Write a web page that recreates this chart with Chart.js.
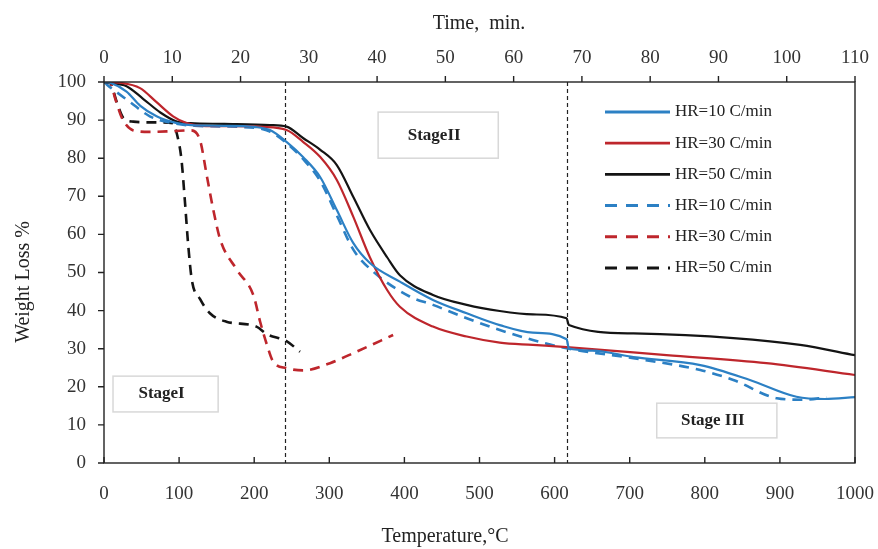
<!DOCTYPE html>
<html lang="en">
<head>
  <meta charset="UTF-8">
  <title>TGA weight loss</title>
  <script src="https://cdn.jsdelivr.net/npm/chart.js"></script>
</head>
<style>
  body { margin: 0; background: #fff; }
  .chart-container { width: 878px; height: 549px; }
</style>
<body>
  <div class="chart-container">
    <canvas id="tgaCanvas" width="878" height="549"></canvas>
  </div>

  <script>
    // temperature (C) / weight (%) readings, solid = TGA runs, dashed = second set
    const hr10Temp = [0, 8, 30, 48, 70, 97, 120, 160, 200, 221, 243, 265, 288, 310, 332, 354, 394, 438, 483, 527, 571, 616, 619, 650, 705, 794, 860, 922, 960, 1000];
    const hr10Loss = [100, 99.8, 97.5, 93.8, 91, 89.2, 88.6, 88.5, 88.2, 87.4, 84.3, 80.3, 75, 66.4, 57.7, 52.5, 47.6, 42.8, 39.3, 36.2, 34.2, 32.5, 30.1, 29.5, 27.8, 25.7, 21.8, 17.4, 16.8, 17.3];

    const hr30Temp = [0, 21, 48, 70, 92, 110, 130, 170, 210, 243, 265, 288, 310, 332, 354, 377, 394, 438, 483, 527, 571, 616, 749, 882, 1000];
    const hr30Loss = [100, 99.8, 98.4, 94.7, 91, 89.2, 88.5, 88.4, 88.2, 87.4, 84.3, 80.3, 74.3, 64.6, 54, 45.4, 41, 35.8, 33.2, 31.6, 31, 30.4, 28.3, 26.2, 23.1];

    const hr50Temp = [0, 4, 30, 52, 75, 97, 115, 160, 221, 243, 265, 288, 310, 332, 354, 377, 394, 438, 483, 527, 571, 616, 619, 705, 838, 927, 1000];
    const hr50Loss = [100, 99.8, 98.9, 95.6, 92, 89.6, 89.2, 89, 88.7, 88.3, 85.3, 82.2, 78.2, 69.8, 61.2, 54, 49.3, 44.1, 41.5, 39.9, 39, 38, 36.2, 34, 32.8, 31, 28.3];

    const hr10bTemp = [0, 4, 35, 61, 92, 120, 200, 221, 243, 265, 288, 310, 332, 354, 407, 438, 483, 527, 571, 616, 705, 794, 838, 896, 930, 962];
    const hr10bLoss = [100, 99.3, 94.7, 91, 89.2, 88.5, 88, 87, 84, 79.8, 74, 65, 56, 51, 43.7, 41.5, 38, 34.9, 32.3, 30.1, 27.5, 24.4, 21.8, 17, 16.6, 17.2];

    const hr30bTemp = [0, 8, 15, 24, 39, 61, 92, 115, 128, 137, 146, 155, 177, 199, 208, 217, 225, 243, 265, 301, 336, 385];
    const hr30bLoss = [100, 99.8, 95.6, 90.5, 87.3, 86.9, 87.1, 87.3, 84.6, 75.3, 66, 58.5, 50.7, 44, 37, 31, 26.7, 24.9, 24.3, 26.2, 29.2, 33.6];

    const hr50bTemp = [0, 8, 17, 26, 39, 66, 92, 97, 103, 108, 112, 117, 128, 141, 163, 203, 217, 243, 261];
    const hr50bLoss = [100, 99.8, 94.7, 90.5, 89.6, 89.4, 89.2, 86.4, 79.9, 68, 57.5, 48, 43, 39.3, 37.1, 35.8, 33.8, 32, 29.2];

    const seriesLabels = ['HR=10 C/min', 'HR=30 C/min', 'HR=50 C/min', 'HR=10 C/min', 'HR=30 C/min', 'HR=50 C/min'];

    const tempTicks = [0, 100, 200, 300, 400, 500, 600, 700, 800, 900, 1000];
    const timeTicks = [0, 10, 20, 30, 40, 50, 60, 70, 80, 90, 100, 110];
    const lossTicks = [0, 10, 20, 30, 40, 50, 60, 70, 80, 90, 100];

    const stageBounds = [241, 617];
    const stageNames = ['StageI', 'StageII', 'Stage III'];

    const BLUE = 'rgb(44, 128, 196)';
    const RED = 'rgb(190, 38, 44)';
    const BLACK = 'rgb(20, 20, 20)';
    const SERIF = '"Liberation Serif", "DejaVu Serif", serif';

    function pts(xs, ys) {
      return xs.map((x, i) => ({ x: x, y: ys[i] }));
    }

    function line(label, xs, ys, color, dashed) {
      return {
        label: label,
        data: pts(xs, ys),
        borderColor: color,
        borderWidth: dashed ? 2.6 : 2.2,
        borderDash: dashed ? [10, 7] : [],
        pointRadius: 0,
        fill: false,
        cubicInterpolationMode: 'monotone'
      };
    }

    // stage boxes, in data units: [tempFrom, tempTo, lossTop, lossBottom]
    const stageBoxes = [
      [12, 152, 22.8, 13.4],
      [365, 525, 92.1, 80],
      [736, 896, 15.7, 6.6]
    ];

    const decor = {
      id: 'decor',
      beforeDatasetsDraw(chart) {
        const { ctx, chartArea: a, scales } = chart;
        const x = scales.x, y = scales.y;
        ctx.save();
        // stage boundaries
        ctx.strokeStyle = '#222';
        ctx.lineWidth = 1.2;
        ctx.setLineDash([4, 3]);
        stageBounds.forEach(t => {
          const px = Math.round(x.getPixelForValue(t)) + 0.5;
          ctx.beginPath();
          ctx.moveTo(px, a.top);
          ctx.lineTo(px, a.bottom);
          ctx.stroke();
        });
        ctx.setLineDash([]);
        // stage boxes
        stageBoxes.forEach((b, i) => {
          const x0 = x.getPixelForValue(b[0]), x1 = x.getPixelForValue(b[1]);
          const y0 = y.getPixelForValue(b[2]), y1 = y.getPixelForValue(b[3]);
          ctx.fillStyle = '#fff';
          ctx.fillRect(x0, y0, x1 - x0, y1 - y0);
          ctx.strokeStyle = '#d8d8d8';
          ctx.lineWidth = 1.5;
          ctx.strokeRect(x0, y0, x1 - x0, y1 - y0);
          ctx.fillStyle = '#222';
          ctx.font = 'bold 17px ' + SERIF;
          ctx.textAlign = 'center';
          ctx.textBaseline = 'middle';
          ctx.fillText(stageNames[i], (x0 + x1) / 2 - 4, (y0 + y1) / 2);
        });
        ctx.restore();
      },
      afterDraw(chart) {
        const { ctx, chartArea: a, scales } = chart;
        ctx.save();
        ctx.strokeStyle = '#222';
        ctx.lineWidth = 1.4;
        ctx.strokeRect(a.left, a.top, a.right - a.left, a.bottom - a.top);
        ctx.beginPath();
        scales.x.ticks.forEach(t => {
          const px = scales.x.getPixelForValue(t.value);
          ctx.moveTo(px, a.bottom); ctx.lineTo(px, a.bottom - 6);
        });
        scales.xTop.ticks.forEach(t => {
          const px = scales.xTop.getPixelForValue(t.value);
          ctx.moveTo(px, a.top); ctx.lineTo(px, a.top - 6);
        });
        scales.y.ticks.forEach(t => {
          const py = scales.y.getPixelForValue(t.value);
          ctx.moveTo(a.left, py); ctx.lineTo(a.left - 6, py);
        });
        ctx.stroke();

        // legend
        ctx.font = '17px ' + SERIF;
        ctx.textAlign = 'left';
        ctx.textBaseline = 'middle';
        chart.data.datasets.forEach((ds, i) => {
          const ly = 112 + i * 31.2;
          ctx.strokeStyle = ds.borderColor;
          ctx.lineWidth = ds.borderDash.length ? 3 : 2.8;
          ctx.setLineDash(ds.borderDash.length ? [12, 9] : []);
          ctx.beginPath();
          ctx.moveTo(605, ly); ctx.lineTo(670, ly);
          ctx.stroke();
          ctx.fillStyle = '#222';
          ctx.fillText(ds.label, 675, ly);
        });
        ctx.setLineDash([]);

        // axis titles
        ctx.fillStyle = '#222';
        ctx.font = '20px ' + SERIF;
        ctx.textAlign = 'center';
        ctx.fillText('Temperature,°C', 445, 537);
        ctx.fillText('Time,  min.', 479, 24);
        ctx.translate(24, 282);
        ctx.rotate(-Math.PI / 2);
        ctx.fillText('Weight Loss %', 0, 0);
        ctx.restore();
      }
    };

    const tickFont = { family: SERIF, size: 19 };
    const plain = v => String(v);
    // keep the plot frame fixed; end labels may hang past it
    const noOverhang = s => { s.paddingLeft = 0; s.paddingRight = 0; s.paddingTop = 0; s.paddingBottom = 0; };

    const chart = new Chart(document.getElementById('tgaCanvas').getContext('2d'), {
      type: 'line',
      data: {
        datasets: [
          line(seriesLabels[0], hr10Temp, hr10Loss, BLUE, false),
          line(seriesLabels[1], hr30Temp, hr30Loss, RED, false),
          line(seriesLabels[2], hr50Temp, hr50Loss, BLACK, false),
          line(seriesLabels[3], hr10bTemp, hr10bLoss, BLUE, true),
          line(seriesLabels[4], hr30bTemp, hr30bLoss, RED, true),
          line(seriesLabels[5], hr50bTemp, hr50bLoss, BLACK, true)
        ]
      },
      options: {
        responsive: false,
        animation: false,
        layout: { padding: { right: 23 } },
        plugins: { legend: { display: false }, tooltip: { enabled: false } },
        scales: {
          x: {
            type: 'linear',
            position: 'bottom',
            min: 0,
            max: 1000,
            afterBuildTicks: s => { s.ticks = tempTicks.map(v => ({ value: v })); },
            afterFit: s => { s.height = 86; noOverhang(s); },
            grid: { display: false },
            border: { display: false },
            ticks: { font: tickFont, color: '#333', padding: 12, maxRotation: 0, callback: plain }
          },
          xTop: {
            axis: 'x',
            type: 'linear',
            position: 'top',
            min: 0,
            max: 110,
            afterBuildTicks: s => { s.ticks = timeTicks.map(v => ({ value: v })); },
            afterFit: s => { s.height = 82; noOverhang(s); },
            grid: { display: false },
            border: { display: false },
            ticks: { font: tickFont, color: '#333', padding: 5, maxRotation: 0, callback: plain }
          },
          y: {
            min: 0,
            max: 100,
            afterBuildTicks: s => { s.ticks = lossTicks.map(v => ({ value: v })); },
            afterFit: s => { s.width = 104; noOverhang(s); },
            grid: { display: false },
            border: { display: false },
            ticks: { font: tickFont, color: '#333', padding: 10, callback: plain }
          }
        }
      },
      plugins: [decor]
    });
  </script>
</body>
</html>
